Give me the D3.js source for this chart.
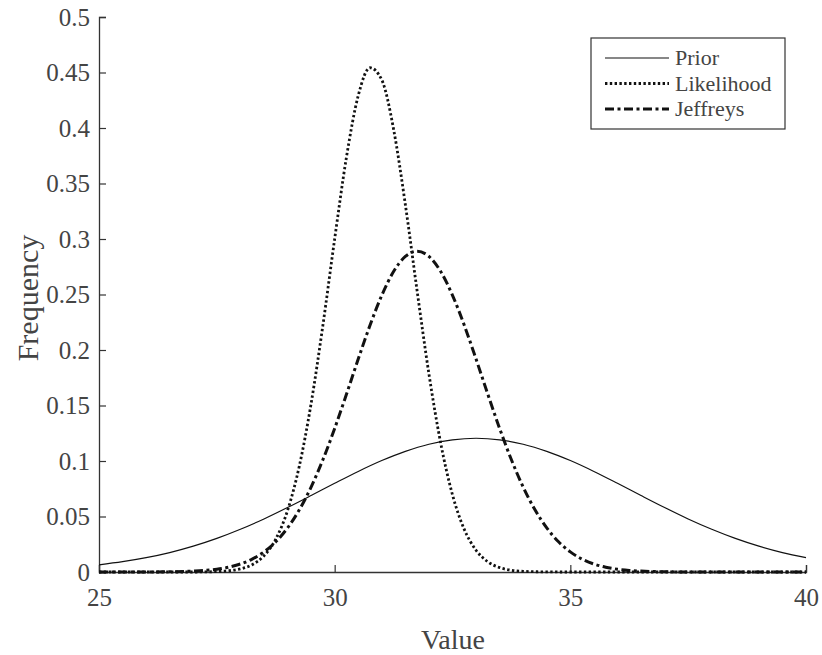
<!DOCTYPE html>
<html>
<head>
	<meta charset="utf-8">
	<script src="https://d3js.org/d3.v7.min.js"></script>
	<style>
		body { margin: 0; background: #fff; }
		text { font-family: "Liberation Serif", "Times New Roman", serif; fill: #444; }
	</style>
</head>
<body>
	<script type="text/javascript">

		// values
		var priorX = [25, 25.5, 26, 26.5, 27, 27.5, 28, 28.5, 29, 29.5, 30, 30.5, 31, 31.5, 32, 32.5,
			33, 33.5, 34, 34.5, 35, 35.5, 36, 36.5, 37, 37.5, 38, 38.5, 39, 39.5, 40];
		var priorY = [0.0065, 0.0093, 0.0129, 0.0175, 0.0233, 0.0303, 0.0385, 0.0478, 0.0581, 0.0689,
			0.0799, 0.0906, 0.1004, 0.1087, 0.1151, 0.1191, 0.1205, 0.1191, 0.1151, 0.1087, 0.1004,
			0.0906, 0.0799, 0.0689, 0.0581, 0.0478, 0.0385, 0.0303, 0.0233, 0.0175, 0.0129];

		var likeX = [25, 26, 27, 27.25, 27.5, 27.75, 28, 28.25, 28.5, 28.75, 29, 29.25, 29.5, 29.75,
			30, 30.25, 30.5, 30.75, 31, 31.25, 31.5, 31.75, 32, 32.25, 32.5, 32.75, 33, 33.25, 33.5,
			33.75, 34, 34.5, 35, 36, 37, 38, 39, 40];
		var likeY = [0, 0, 0, 0.0001, 0.0004, 0.0011, 0.0028, 0.0066, 0.0146, 0.0296, 0.0553, 0.0954,
			0.1517, 0.2222, 0.3001, 0.3737, 0.4292, 0.4543, 0.4433, 0.3989, 0.3309, 0.2530, 0.1784,
			0.1160, 0.0695, 0.0384, 0.0196, 0.0092, 0.0040, 0.0016, 0.0006, 0.0001, 0, 0, 0, 0, 0, 0];

		var jefX = [25, 26, 26.5, 27, 27.25, 27.5, 27.75, 28, 28.25, 28.5, 28.75, 29, 29.25, 29.5,
			29.75, 30, 30.25, 30.5, 30.75, 31, 31.25, 31.5, 31.75, 32, 32.25, 32.5, 32.75, 33, 33.25,
			33.5, 33.75, 34, 34.25, 34.5, 34.75, 35, 35.25, 35.5, 35.75, 36, 36.25, 36.5, 37, 37.5,
			38, 39, 40];
		var jefY = [0, 0.00005, 0.0002, 0.0008, 0.0014, 0.0025, 0.0043, 0.0072, 0.0116, 0.0181,
			0.0272, 0.0397, 0.0560, 0.0765, 0.1011, 0.1293, 0.1601, 0.1918, 0.2223, 0.2493, 0.2707,
			0.2843, 0.2890, 0.2843, 0.2707, 0.2493, 0.2223, 0.1918, 0.1601, 0.1293, 0.1011, 0.0765,
			0.0560, 0.0397, 0.0272, 0.0181, 0.0116, 0.0072, 0.0043, 0.0025, 0.0014, 0.0008, 0.0002,
			0.00005, 0, 0, 0];

		var xTicks = [25, 30, 35, 40];
		var yTicks = [0, 0.05, 0.1, 0.15, 0.2, 0.25, 0.3, 0.35, 0.4, 0.45, 0.5];
		var seriesNames = ["Prior", "Likelihood", "Jeffreys"];

		var w = 822;
		var h = 655;
		var svg = d3.select("body")
				.append("svg")
				.attr("width", w)
				.attr("height", h);

		var xScale = d3.scaleLinear()
					.domain([25, 40])
					.range([99, 806]);
		var yScale = d3.scaleLinear()
					.domain([0, 0.5])
					.range([572, 17]);

		var styles = [
			{ width: 1.2, dash: null },
			{ width: 2.8, dash: "2.4,2.4" },
			{ width: 3, dash: "9,3.5,3,3.5" }
		];

		// axes, ticks pointing inward
		var xAxis = svg.append("g")
			.attr("transform", "translate(0," + yScale(0) + ")")
			.call(d3.axisBottom(xScale).tickValues(xTicks).tickSize(-7).tickPadding(16)
				.tickFormat(d3.format("d")));
		var yAxis = svg.append("g")
			.attr("transform", "translate(" + xScale(25) + ",0)")
			.call(d3.axisLeft(yScale).tickValues(yTicks).tickSize(-7).tickPadding(9)
				.tickFormat(function(d){ return d === 0 ? "0" : d3.format("")(+d.toFixed(2)); }));

		[xAxis, yAxis].forEach(function(a){
			a.select(".domain").attr("stroke", "#333").attr("stroke-width", 1.3);
			a.selectAll(".tick line").attr("stroke", "#333").attr("stroke-width", 1.2);
			a.selectAll(".tick text")
				.style("font-family", "'Liberation Serif', serif")
				.style("font-size", "25px")
				.attr("fill", "#444");
		});

		var line = d3.line()
			.x(function(d){ return xScale(d[0]); })
			.y(function(d){ return yScale(d[1]); })
			.curve(d3.curveMonotoneX);

		var series = [
			d3.zip(priorX, priorY),
			d3.zip(likeX, likeY),
			d3.zip(jefX, jefY)
		];

		svg.selectAll("path.curve")
			.data(series)
			.enter()
			.append("path")
			.attr("class", "curve")
			.attr("d", line)
			.attr("fill", "none")
			.attr("stroke", "#111")
			.attr("stroke-width", function(d, i){ return styles[i].width; })
			.attr("stroke-dasharray", function(d, i){ return styles[i].dash; });

		// axis labels
		svg.append("text")
			.attr("x", 453)
			.attr("y", 649)
			.attr("text-anchor", "middle")
			.style("font-size", "28px")
			.text("Value");

		svg.append("text")
			.attr("transform", "translate(38,298) rotate(-90)")
			.attr("text-anchor", "middle")
			.style("font-size", "30px")
			.text("Frequency");

		// legend
		var legend = svg.append("g");
		legend.append("rect")
			.attr("x", 591)
			.attr("y", 38)
			.attr("width", 194)
			.attr("height", 91)
			.attr("fill", "#fff")
			.attr("stroke", "#333")
			.attr("stroke-width", 1.2);

		var rows = legend.selectAll("g.row")
			.data(seriesNames)
			.enter()
			.append("g")
			.attr("class", "row")
			.attr("transform", function(d, i){ return "translate(0," + (58 + i * 25.5) + ")"; });

		rows.append("line")
			.attr("x1", 605)
			.attr("x2", 669)
			.attr("stroke", "#111")
			.attr("stroke-width", function(d, i){ return styles[i].width; })
			.attr("stroke-dasharray", function(d, i){ return styles[i].dash; });

		rows.append("text")
			.attr("x", 675)
			.attr("y", 7)
			.style("font-size", "22px")
			.text(function(d){ return d; });

	</script>
</body>
</html>
